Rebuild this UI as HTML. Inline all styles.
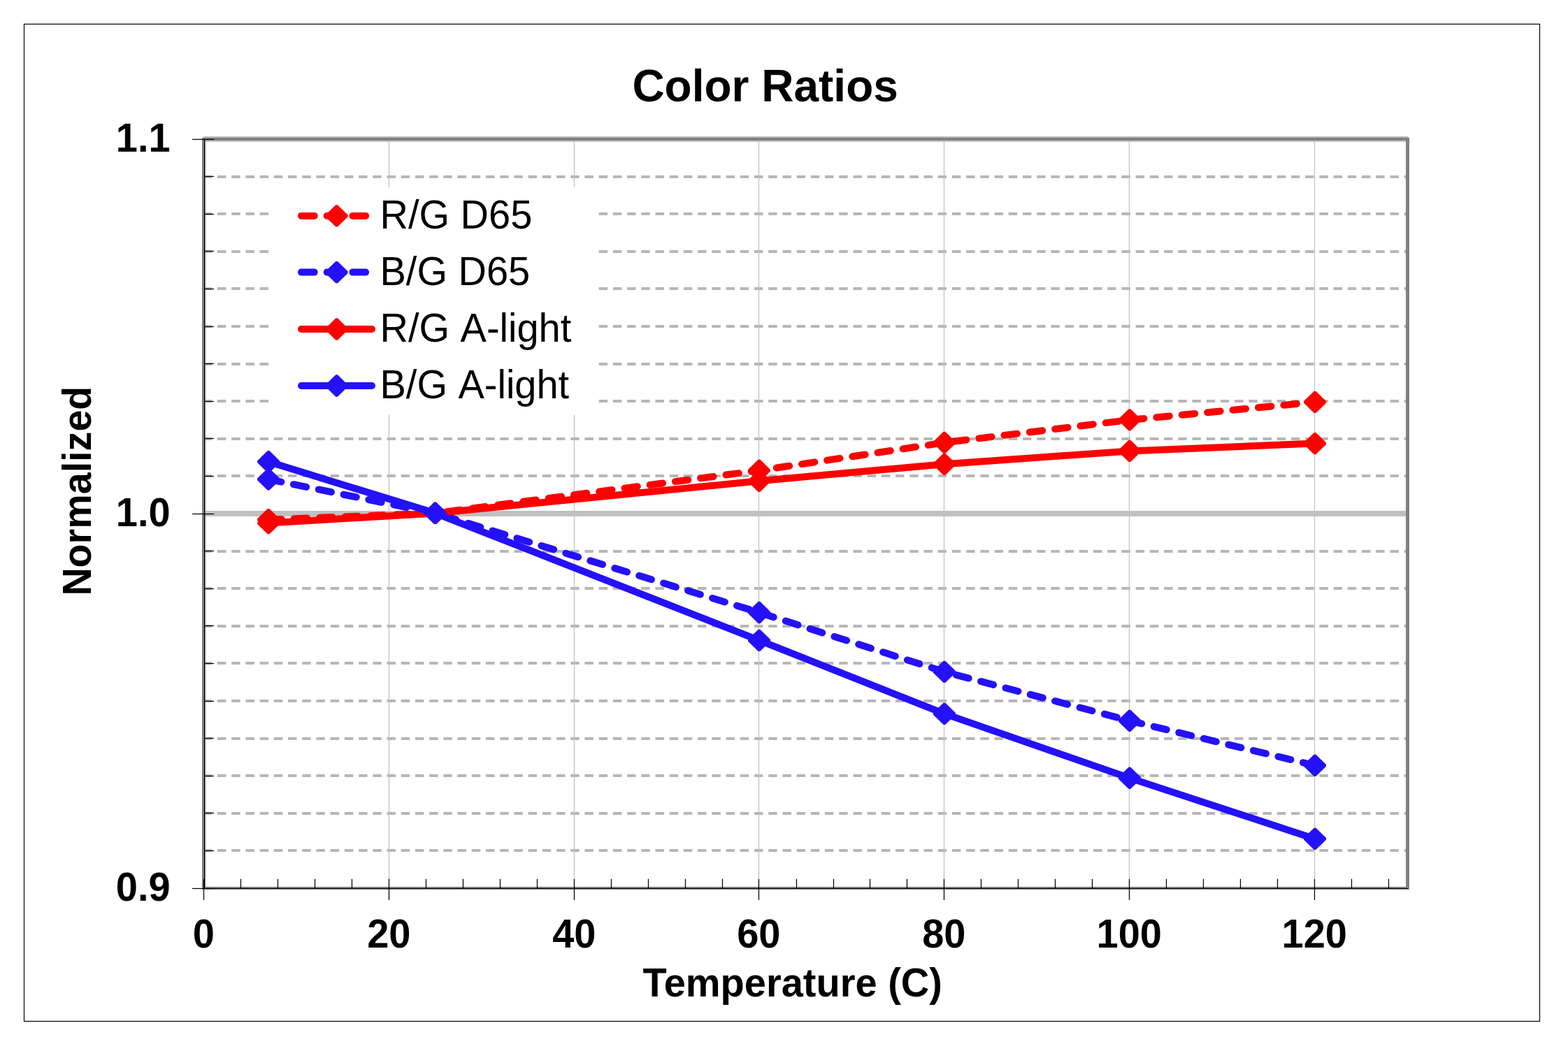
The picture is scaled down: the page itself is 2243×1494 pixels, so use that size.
<!DOCTYPE html>
<html lang="en"><head><meta charset="utf-8"><title>Color Ratios</title>
<style>
html,body{margin:0;padding:0;background:#fff;}
body{width:2243px;height:1494px;overflow:hidden;}
svg{display:block;}
text{font-family:"Liberation Sans",sans-serif;fill:#000;}
.b{font-weight:bold;}
.t56{font-size:56px;}
.t64{font-size:64px;}
.nk{font-kerning:none;}
</style></head><body>
<svg width="2243" height="1494" viewBox="0 0 2243 1494" role="img" aria-label="Color Ratios chart">
<rect x="0" y="0" width="2243" height="1494" fill="#ffffff"/>
<rect x="34.5" y="34.5" width="2168" height="1427" fill="none" stroke="#000" stroke-width="1.2"/>
<g id="grid">
<rect x="291" y="195" width="1723" height="8" fill="#c0c0c0"/>
<rect x="291" y="731" width="1723" height="8" fill="#c0c0c0"/>
<line x1="290.8" y1="253" x2="2011" y2="253" stroke="#b6b6b6" stroke-width="4" stroke-dasharray="12.4 7.81"/>
<line x1="290.8" y1="306" x2="2011" y2="306" stroke="#b6b6b6" stroke-width="4" stroke-dasharray="12.4 7.81"/>
<line x1="290.8" y1="360" x2="2011" y2="360" stroke="#b6b6b6" stroke-width="4" stroke-dasharray="12.4 7.81"/>
<line x1="290.8" y1="413" x2="2011" y2="413" stroke="#b6b6b6" stroke-width="4" stroke-dasharray="12.4 7.81"/>
<line x1="290.8" y1="467" x2="2011" y2="467" stroke="#b6b6b6" stroke-width="4" stroke-dasharray="12.4 7.81"/>
<line x1="290.8" y1="521" x2="2011" y2="521" stroke="#b6b6b6" stroke-width="4" stroke-dasharray="12.4 7.81"/>
<line x1="290.8" y1="574" x2="2011" y2="574" stroke="#b6b6b6" stroke-width="4" stroke-dasharray="12.4 7.81"/>
<line x1="290.8" y1="628" x2="2011" y2="628" stroke="#b6b6b6" stroke-width="4" stroke-dasharray="12.4 7.81"/>
<line x1="290.8" y1="681" x2="2011" y2="681" stroke="#b6b6b6" stroke-width="4" stroke-dasharray="12.4 7.81"/>
<line x1="290.8" y1="789" x2="2011" y2="789" stroke="#b6b6b6" stroke-width="4" stroke-dasharray="12.4 7.81"/>
<line x1="290.8" y1="842" x2="2011" y2="842" stroke="#b6b6b6" stroke-width="4" stroke-dasharray="12.4 7.81"/>
<line x1="290.8" y1="896" x2="2011" y2="896" stroke="#b6b6b6" stroke-width="4" stroke-dasharray="12.4 7.81"/>
<line x1="290.8" y1="949" x2="2011" y2="949" stroke="#b6b6b6" stroke-width="4" stroke-dasharray="12.4 7.81"/>
<line x1="290.8" y1="1003" x2="2011" y2="1003" stroke="#b6b6b6" stroke-width="4" stroke-dasharray="12.4 7.81"/>
<line x1="290.8" y1="1057" x2="2011" y2="1057" stroke="#b6b6b6" stroke-width="4" stroke-dasharray="12.4 7.81"/>
<line x1="290.8" y1="1110" x2="2011" y2="1110" stroke="#b6b6b6" stroke-width="4" stroke-dasharray="12.4 7.81"/>
<line x1="290.8" y1="1164" x2="2011" y2="1164" stroke="#b6b6b6" stroke-width="4" stroke-dasharray="12.4 7.81"/>
<line x1="290.8" y1="1217" x2="2011" y2="1217" stroke="#b6b6b6" stroke-width="4" stroke-dasharray="12.4 7.81"/>
<line x1="556.47" y1="199" x2="556.47" y2="1271" stroke="#c0c0c0" stroke-width="1.25"/>
<line x1="821.47" y1="199" x2="821.47" y2="1271" stroke="#c0c0c0" stroke-width="1.25"/>
<line x1="1085.47" y1="199" x2="1085.47" y2="1271" stroke="#c0c0c0" stroke-width="1.25"/>
<line x1="1350.47" y1="199" x2="1350.47" y2="1271" stroke="#c0c0c0" stroke-width="1.25"/>
<line x1="1615.47" y1="199" x2="1615.47" y2="1271" stroke="#c0c0c0" stroke-width="1.25"/>
<line x1="1880.47" y1="199" x2="1880.47" y2="1271" stroke="#c0c0c0" stroke-width="1.25"/>
</g>
<g id="plotborder" fill="#808080">
<rect x="289" y="197" width="1727" height="4"/>
<rect x="289" y="1269" width="1727" height="4"/>
<rect x="289" y="197" width="5" height="1076"/>
<rect x="2011" y="197" width="5" height="1076"/>
</g>
<g id="axes" stroke="#000" stroke-width="1.25">
<line x1="292.5" y1="199" x2="292.5" y2="1272" stroke-width="1.1"/>
<line x1="291" y1="1271.5" x2="2014" y2="1271.5" stroke-width="1.1"/>
<line x1="275" y1="199.5" x2="306" y2="199.5"/>
<line x1="275" y1="735.5" x2="306" y2="735.5"/>
<line x1="275" y1="1271.5" x2="306" y2="1271.5"/>
<line x1="292" y1="252.5" x2="306" y2="252.5"/>
<line x1="292" y1="306.5" x2="306" y2="306.5"/>
<line x1="292" y1="359.5" x2="306" y2="359.5"/>
<line x1="292" y1="413.5" x2="306" y2="413.5"/>
<line x1="292" y1="467.5" x2="306" y2="467.5"/>
<line x1="292" y1="520.5" x2="306" y2="520.5"/>
<line x1="292" y1="574.5" x2="306" y2="574.5"/>
<line x1="292" y1="627.5" x2="306" y2="627.5"/>
<line x1="292" y1="681.5" x2="306" y2="681.5"/>
<line x1="292" y1="788.5" x2="306" y2="788.5"/>
<line x1="292" y1="842.5" x2="306" y2="842.5"/>
<line x1="292" y1="895.5" x2="306" y2="895.5"/>
<line x1="292" y1="949.5" x2="306" y2="949.5"/>
<line x1="292" y1="1003.5" x2="306" y2="1003.5"/>
<line x1="292" y1="1056.5" x2="306" y2="1056.5"/>
<line x1="292" y1="1110.5" x2="306" y2="1110.5"/>
<line x1="292" y1="1163.5" x2="306" y2="1163.5"/>
<line x1="292" y1="1217.5" x2="306" y2="1217.5"/>
<line x1="291.47" y1="1257.8" x2="291.47" y2="1288"/>
<line x1="344.47" y1="1257.8" x2="344.47" y2="1271.5"/>
<line x1="397.47" y1="1257.8" x2="397.47" y2="1271.5"/>
<line x1="450.47" y1="1257.8" x2="450.47" y2="1271.5"/>
<line x1="503.47" y1="1257.8" x2="503.47" y2="1271.5"/>
<line x1="556.47" y1="1257.8" x2="556.47" y2="1288"/>
<line x1="609.47" y1="1257.8" x2="609.47" y2="1271.5"/>
<line x1="662.47" y1="1257.8" x2="662.47" y2="1271.5"/>
<line x1="715.47" y1="1257.8" x2="715.47" y2="1271.5"/>
<line x1="768.47" y1="1257.8" x2="768.47" y2="1271.5"/>
<line x1="821.47" y1="1257.8" x2="821.47" y2="1288"/>
<line x1="874.47" y1="1257.8" x2="874.47" y2="1271.5"/>
<line x1="927.47" y1="1257.8" x2="927.47" y2="1271.5"/>
<line x1="980.47" y1="1257.8" x2="980.47" y2="1271.5"/>
<line x1="1033.47" y1="1257.8" x2="1033.47" y2="1271.5"/>
<line x1="1085.47" y1="1257.8" x2="1085.47" y2="1288"/>
<line x1="1139.47" y1="1257.8" x2="1139.47" y2="1271.5"/>
<line x1="1192.47" y1="1257.8" x2="1192.47" y2="1271.5"/>
<line x1="1244.47" y1="1257.8" x2="1244.47" y2="1271.5"/>
<line x1="1297.47" y1="1257.8" x2="1297.47" y2="1271.5"/>
<line x1="1350.47" y1="1257.8" x2="1350.47" y2="1288"/>
<line x1="1403.47" y1="1257.8" x2="1403.47" y2="1271.5"/>
<line x1="1456.47" y1="1257.8" x2="1456.47" y2="1271.5"/>
<line x1="1509.47" y1="1257.8" x2="1509.47" y2="1271.5"/>
<line x1="1562.47" y1="1257.8" x2="1562.47" y2="1271.5"/>
<line x1="1615.47" y1="1257.8" x2="1615.47" y2="1288"/>
<line x1="1668.47" y1="1257.8" x2="1668.47" y2="1271.5"/>
<line x1="1721.47" y1="1257.8" x2="1721.47" y2="1271.5"/>
<line x1="1774.47" y1="1257.8" x2="1774.47" y2="1271.5"/>
<line x1="1827.47" y1="1257.8" x2="1827.47" y2="1271.5"/>
<line x1="1880.47" y1="1257.8" x2="1880.47" y2="1288"/>
<line x1="1933.47" y1="1257.8" x2="1933.47" y2="1271.5"/>
<line x1="1986.47" y1="1257.8" x2="1986.47" y2="1271.5"/>
</g>
<g id="series">
<polyline id="rd" points="384.1,743.6 622.6,734.4 1086.0,673.3 1350.9,633.4 1615.9,600.9 1881.0,575.4" fill="none" stroke="#ff0000" stroke-width="10.0" stroke-linejoin="round" stroke-dasharray="18.56 18" stroke-linecap="round"/>
<polygon points="382.8,727.9 385.4,727.9 400.1,742.3 400.1,744.9 385.4,759.3 382.8,759.3 368.1,744.9 368.1,742.3" fill="#ff0000"/>
<polygon points="621.3,718.7 623.9,718.7 638.6,733.1 638.6,735.7 623.9,750.1 621.3,750.1 606.6,735.7 606.6,733.1" fill="#ff0000"/>
<polygon points="1084.7,657.6 1087.3,657.6 1102.0,672.0 1102.0,674.6 1087.3,689.0 1084.7,689.0 1070.0,674.6 1070.0,672.0" fill="#ff0000"/>
<polygon points="1349.6,617.7 1352.2,617.7 1366.9,632.1 1366.9,634.7 1352.2,649.1 1349.6,649.1 1334.9,634.7 1334.9,632.1" fill="#ff0000"/>
<polygon points="1614.6,585.2 1617.2,585.2 1631.9,599.6 1631.9,602.2 1617.2,616.6 1614.6,616.6 1599.9,602.2 1599.9,599.6" fill="#ff0000"/>
<polygon points="1879.7,559.7 1882.3,559.7 1897.0,574.1 1897.0,576.7 1882.3,591.1 1879.7,591.1 1865.0,576.7 1865.0,574.1" fill="#ff0000"/>
<polyline id="bd" points="384.1,685.9 622.6,734.4 1086.0,876.5 1350.9,961.4 1615.9,1031.4 1881.0,1095.4" fill="none" stroke="#2411f9" stroke-width="10.0" stroke-linejoin="round" stroke-dasharray="18.56 18" stroke-linecap="round"/>
<polygon points="382.8,670.2 385.4,670.2 400.1,684.6 400.1,687.2 385.4,701.6 382.8,701.6 368.1,687.2 368.1,684.6" fill="#2411f9"/>
<polygon points="621.3,718.7 623.9,718.7 638.6,733.1 638.6,735.7 623.9,750.1 621.3,750.1 606.6,735.7 606.6,733.1" fill="#2411f9"/>
<polygon points="1084.7,860.8 1087.3,860.8 1102.0,875.2 1102.0,877.8 1087.3,892.2 1084.7,892.2 1070.0,877.8 1070.0,875.2" fill="#2411f9"/>
<polygon points="1349.6,945.7 1352.2,945.7 1366.9,960.1 1366.9,962.7 1352.2,977.1 1349.6,977.1 1334.9,962.7 1334.9,960.1" fill="#2411f9"/>
<polygon points="1614.6,1015.7 1617.2,1015.7 1631.9,1030.1 1631.9,1032.7 1617.2,1047.1 1614.6,1047.1 1599.9,1032.7 1599.9,1030.1" fill="#2411f9"/>
<polygon points="1879.7,1079.7 1882.3,1079.7 1897.0,1094.1 1897.0,1096.7 1882.3,1111.1 1879.7,1111.1 1865.0,1096.7 1865.0,1094.1" fill="#2411f9"/>
<polyline id="rs" points="384.1,748.6 622.6,734.4 1086.0,688.2 1350.9,664.2 1615.9,645.4 1881.0,634.6" fill="none" stroke="#ff0000" stroke-width="10.0" stroke-linejoin="round" stroke-linecap="round"/>
<polygon points="382.8,732.9 385.4,732.9 400.1,747.3 400.1,749.9 385.4,764.3 382.8,764.3 368.1,749.9 368.1,747.3" fill="#ff0000"/>
<polygon points="621.3,718.7 623.9,718.7 638.6,733.1 638.6,735.7 623.9,750.1 621.3,750.1 606.6,735.7 606.6,733.1" fill="#ff0000"/>
<polygon points="1084.7,672.5 1087.3,672.5 1102.0,686.9 1102.0,689.5 1087.3,703.9 1084.7,703.9 1070.0,689.5 1070.0,686.9" fill="#ff0000"/>
<polygon points="1349.6,648.5 1352.2,648.5 1366.9,662.9 1366.9,665.5 1352.2,679.9 1349.6,679.9 1334.9,665.5 1334.9,662.9" fill="#ff0000"/>
<polygon points="1614.6,629.7 1617.2,629.7 1631.9,644.1 1631.9,646.7 1617.2,661.1 1614.6,661.1 1599.9,646.7 1599.9,644.1" fill="#ff0000"/>
<polygon points="1879.7,618.9 1882.3,618.9 1897.0,633.3 1897.0,635.9 1882.3,650.3 1879.7,650.3 1865.0,635.9 1865.0,633.3" fill="#ff0000"/>
<polyline id="bs" points="384.1,660.8 622.6,734.4 1086.0,916.4 1350.9,1021.4 1615.9,1113.4 1881.0,1200.4" fill="none" stroke="#2411f9" stroke-width="10.0" stroke-linejoin="round" stroke-linecap="round"/>
<polygon points="382.8,645.1 385.4,645.1 400.1,659.5 400.1,662.1 385.4,676.5 382.8,676.5 368.1,662.1 368.1,659.5" fill="#2411f9"/>
<polygon points="621.3,718.7 623.9,718.7 638.6,733.1 638.6,735.7 623.9,750.1 621.3,750.1 606.6,735.7 606.6,733.1" fill="#2411f9"/>
<polygon points="1084.7,900.7 1087.3,900.7 1102.0,915.1 1102.0,917.7 1087.3,932.1 1084.7,932.1 1070.0,917.7 1070.0,915.1" fill="#2411f9"/>
<polygon points="1349.6,1005.7 1352.2,1005.7 1366.9,1020.1 1366.9,1022.7 1352.2,1037.1 1349.6,1037.1 1334.9,1022.7 1334.9,1020.1" fill="#2411f9"/>
<polygon points="1614.6,1097.7 1617.2,1097.7 1631.9,1112.1 1631.9,1114.7 1617.2,1129.1 1614.6,1129.1 1599.9,1114.7 1599.9,1112.1" fill="#2411f9"/>
<polygon points="1879.7,1184.7 1882.3,1184.7 1897.0,1199.1 1897.0,1201.7 1882.3,1216.1 1879.7,1216.1 1865.0,1201.7 1865.0,1199.1" fill="#2411f9"/>
</g>
<g id="legend">
<rect x="388" y="268" width="465" height="325.5" fill="#ffffff"/>
<line x1="431" y1="308.9" x2="532" y2="308.9" stroke="#ff0000" stroke-width="10.0" stroke-linecap="round" stroke-dasharray="18.7 18"/>
<polygon points="480.3,293.2 482.9,293.2 497.6,307.6 497.6,310.2 482.9,324.6 480.3,324.6 465.6,310.2 465.6,307.6" fill="#ff0000"/>
<text class="t56 nk" transform="translate(543.50 326.90) scale(1.0 1.035)">R/G D65</text>
<line x1="431" y1="389.6" x2="532" y2="389.6" stroke="#2411f9" stroke-width="10.0" stroke-linecap="round" stroke-dasharray="18.7 18"/>
<polygon points="480.3,373.9 482.9,373.9 497.6,388.3 497.6,390.9 482.9,405.3 480.3,405.3 465.6,390.9 465.6,388.3" fill="#2411f9"/>
<text class="t56 nk" transform="translate(543.50 408.00) scale(1.0 1.035)">B/G D65</text>
<line x1="431" y1="471.0" x2="532" y2="471.0" stroke="#ff0000" stroke-width="10.0" stroke-linecap="round"/>
<polygon points="480.3,455.3 482.9,455.3 497.6,469.7 497.6,472.3 482.9,486.7 480.3,486.7 465.6,472.3 465.6,469.7" fill="#ff0000"/>
<text class="t56 nk" transform="translate(543.50 488.90) scale(1.0 1.035)">R/G A-light</text>
<line x1="431" y1="552.0" x2="532" y2="552.0" stroke="#2411f9" stroke-width="10.0" stroke-linecap="round"/>
<polygon points="480.3,536.3 482.9,536.3 497.6,550.7 497.6,553.3 482.9,567.7 480.3,567.7 465.6,553.3 465.6,550.7" fill="#2411f9"/>
<text class="t56 nk" transform="translate(543.50 569.70) scale(1.0 1.035)">B/G A-light</text>
</g>
<g id="labels">
<text class="b t64" transform="translate(904.40 144.80) scale(1.0 1.025)">Color Ratios</text>
<text class="b t56" transform="translate(243.70 216.90) scale(1.0 1.04)" text-anchor="end">1.1</text>
<text class="b t56" transform="translate(243.70 752.90) scale(1.0 1.04)" text-anchor="end">1.0</text>
<text class="b t56" transform="translate(243.70 1288.90) scale(1.0 1.04)" text-anchor="end">0.9</text>
<text class="b t56" transform="translate(291.27 1356.00) scale(1.0 1.04)" text-anchor="middle">0</text>
<text class="b t56" transform="translate(556.27 1356.00) scale(1.0 1.04)" text-anchor="middle">20</text>
<text class="b t56" transform="translate(821.27 1356.00) scale(1.0 1.04)" text-anchor="middle">40</text>
<text class="b t56" transform="translate(1085.27 1356.00) scale(1.0 1.04)" text-anchor="middle">60</text>
<text class="b t56" transform="translate(1350.27 1356.00) scale(1.0 1.04)" text-anchor="middle">80</text>
<text class="b t56" transform="translate(1615.27 1356.00) scale(1.0 1.04)" text-anchor="middle">100</text>
<text class="b t56" transform="translate(1880.27 1356.00) scale(1.0 1.04)" text-anchor="middle">120</text>
<text class="b t56" transform="translate(919.60 1426.20) scale(1.0 1.02)">Temperature (C)</text>
<text class="b t56" transform="translate(130.00 852.60) rotate(-90) scale(0.994 1.02)">Normalized</text>
</g>
</svg>
</body></html>
